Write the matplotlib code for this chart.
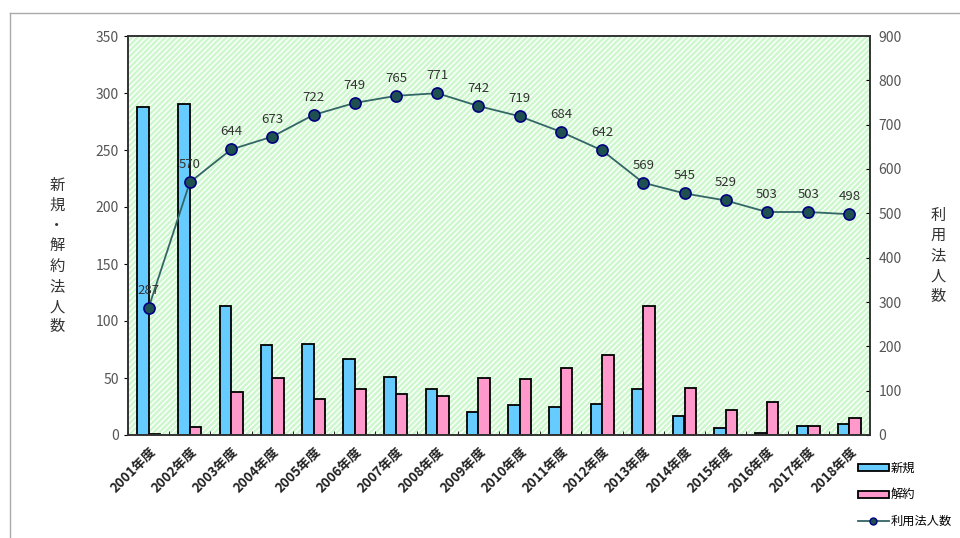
import matplotlib.pyplot as plt
from matplotlib.patches import Rectangle
from matplotlib.lines import Line2D
import numpy as np

plt.rcParams['font.family'] = ['Noto Sans CJK JP', 'DejaVu Sans']

# data
years = ['2001年度', '2002年度', '2003年度', '2004年度', '2005年度', '2006年度',
         '2007年度', '2008年度', '2009年度', '2010年度', '2011年度', '2012年度',
         '2013年度', '2014年度', '2015年度', '2016年度', '2017年度', '2018年度']
new_corp = [288, 290, 113, 79, 80, 67, 51, 40, 20, 26, 25, 27, 40, 17, 6, 2, 8, 10]
cancel_corp = [1, 7, 38, 50, 32, 40, 36, 34, 50, 49, 59, 70, 113, 41, 22, 29, 8, 15]
users = [287, 570, 644, 673, 722, 749, 765, 771, 742, 719, 684, 642, 569, 545, 529, 503, 503, 498]

fig = plt.figure(figsize=(9.6, 5.38), dpi=100)

# outer frame
fig.add_artist(Line2D([10/960, 10/960], [0, 1 - 13/538], transform=fig.transFigure, color='#aaaaaa', lw=1))
fig.add_artist(Line2D([10/960, 1], [1 - 13/538, 1 - 13/538], transform=fig.transFigure, color='#aaaaaa', lw=1))

ax = fig.add_axes([128/960, 1 - 435/538, (870 - 128)/960, (435 - 36)/538])
ax.set_facecolor('none')
ax.add_patch(Rectangle((0, 0), 1, 1, transform=ax.transAxes, facecolor='#cdf7cd',
                       edgecolor='white', hatch='//////', lw=0, zorder=0))

x = np.arange(len(years))
w = 0.28
ax.bar(x - w/2, new_corp, w, color='#66ccff', edgecolor='black', lw=1.3, zorder=2, label='新規')
ax.bar(x + w/2, cancel_corp, w, color='#ff99cc', edgecolor='black', lw=1.3, zorder=2, label='解約')

ax.set_xlim(-0.5, len(years) - 0.5)
ax.set_ylim(0, 350)
ax.set_yticks(range(0, 351, 50))
ax.set_xticks(x)
ax.set_xticklabels(years, rotation=45, ha='right', rotation_mode='anchor', fontsize=9.5,
                   color='#222222', fontweight='bold')
ax.set_xticks(np.arange(-0.5, len(years), 1), minor=True)
ax.tick_params(axis='x', which='major', length=0, pad=7)
ax.tick_params(axis='x', which='minor', length=3, direction='in')
ax.tick_params(axis='y', labelsize=10, labelcolor='#555555', length=3, direction='out')

ax2 = ax.twinx()
ax2.set_ylim(0, 900)
ax2.set_yticks(range(0, 901, 100))
ax2.tick_params(axis='y', labelsize=10, labelcolor='#555555', length=3, direction='in', pad=6)
ax2.plot(x, users, color='#336666', lw=1.3, marker='o', markersize=8,
         markerfacecolor='#1f5050', markeredgecolor='#000080', markeredgewidth=1.2, zorder=3)
for xi, v in zip(x, users):
    ax2.annotate(str(v), (xi, v), xytext=(0, 8), textcoords='offset points',
                 ha='center', va='bottom', fontsize=9.5, color='#333333')

for a in (ax, ax2):
    for s in a.spines.values():
        s.set_color('#333333')
        s.set_linewidth(1.2)

fig.text(57/960, 1 - 256/538, '\n'.join('新規・解約法人数'), ha='center', va='center',
         fontsize=11, linespacing=1.25, color='#333333')
fig.text(938/960, 1 - 256/538, '\n'.join('利用法人数'), ha='center', va='center',
         fontsize=11, linespacing=1.25, color='#333333')

handles = [Rectangle((0, 0), 1, 1, facecolor='#66ccff', edgecolor='black', lw=1.3),
           Rectangle((0, 0), 1, 1, facecolor='#ff99cc', edgecolor='black', lw=1.3),
           Line2D([], [], color='#336666', lw=1.3, marker='o', markersize=5,
                  markerfacecolor='#1f5050', markeredgecolor='#000080')]
fig.legend(handles, ['新規', '解約', '利用法人数'], loc='upper left',
           bbox_to_anchor=(858/960, 1 - 462/538), frameon=False, fontsize=8.8,
           handlelength=2.5, handleheight=0.5, labelspacing=1.1, handletextpad=0.2,
           borderaxespad=0, borderpad=0)

fig.savefig('out.png', dpi=100)
